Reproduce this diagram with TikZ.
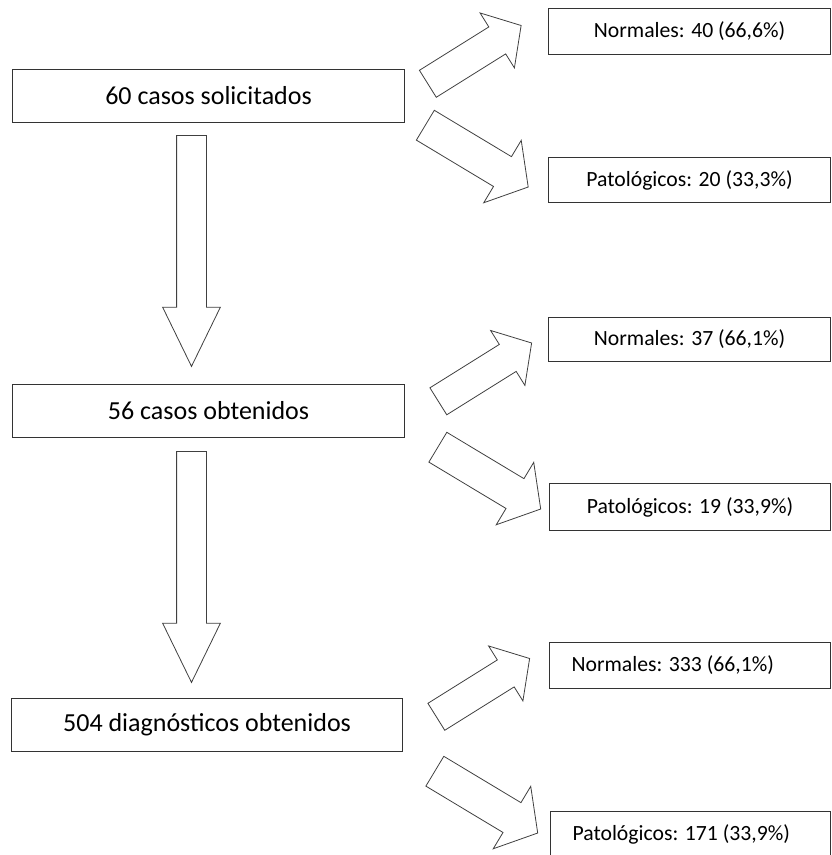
\documentclass[tikz,border=0pt]{standalone}
\usepackage{fontspec}
\setmainfont{Carlito}
\usetikzlibrary{shapes.arrows}

\begin{document}
\begin{tikzpicture}
	[
		x=1pt, y=-1pt,
		caseBox/.style={
				rectangle,
				minimum width=392pt,
				minimum height=53pt,
				inner sep=0pt,
				line width=1.1pt,
				draw=black!80,
				fill=white,
				anchor=north west,
				font=\fontsize{26}{30}\selectfont,
			},
		resultBox/.style={
				rectangle,
				minimum width=282pt,
				minimum height=46pt,
				inner sep=0pt,
				line width=1.1pt,
				draw=black!80,
				fill=white,
				anchor=north west,
				font=\fontsize{21.7}{25}\selectfont,
			},
		flowArrow/.style={
				single arrow,
				single arrow head indent=0pt,
				line width=0.8pt,
				draw=black!75,
				fill=white,
				anchor=tail,
			},
		downArrow/.style={
				flowArrow,
				inner sep=14.5pt,
				minimum height=231pt,
				single arrow head extend=14pt,
				single arrow tip angle=52,
				rotate=-90,
			},
		splitUp/.style={
				flowArrow,
				inner sep=15.5pt,
				minimum height=110pt,
				single arrow head extend=16.5pt,
				single arrow tip angle=98,
				rotate=32,
			},
		splitDown/.style={
				flowArrow,
				inner sep=17pt,
				minimum height=120pt,
				single arrow head extend=19pt,
				single arrow tip angle=101,
				rotate=-31,
			},
	]
	\useasboundingbox (0,0) rectangle (831,855);
	\clip (0,0) rectangle (831,855);

	% left column
	\node [caseBox] (solicitados) at (12,69) {60 casos solicitados};
	\node [caseBox] (obtenidos) at (12,384) {56 casos obtenidos};
	\node [caseBox, minimum width=391pt] (diagnosticos) at (11,698) {504 diagnósticos obtenidos};
	\node [downArrow] (down1) at (191.5,135) {};
	\node [downArrow] (down2) at (191.5,451) {};

	% split arrows
	\node [splitUp] (up1) at (427.5,84) {};
	\node [splitDown] (dn1) at (425,125) {};
	\node [splitUp] (up2) at (438,401.5) {};
	\node [splitDown] (dn2) at (437.5,447) {};
	\node [splitUp] (up3) at (436,717) {};
	\node [splitDown] (dn3) at (434.5,771) {};

	% right column
	\node [resultBox] (normal1) at (548,8) {Normales: 40 (66,6\%)};
	\node [resultBox, minimum height=45pt] (pato1) at (548,157) {Patológicos: 20 (33,3\%)};
	\node [resultBox, minimum height=44pt] (normal2) at (548,317) {Normales: 37 (66,1\%)};
	\node [resultBox, minimum width=281pt, minimum height=47pt] (pato2) at (549,483) {Patológicos: 19 (33,9\%)};
	\node [resultBox, minimum width=281pt, inner xsep=22pt] (normal3) at (549,642) {\makebox[237pt][l]{Normales: 333 (66,1\%)}};
	\node [resultBox, minimum width=280pt, inner xsep=22pt] (pato3) at (550,811) {\makebox[236pt][l]{Patológicos: 171 (33,9\%)}};
\end{tikzpicture}
\end{document}
